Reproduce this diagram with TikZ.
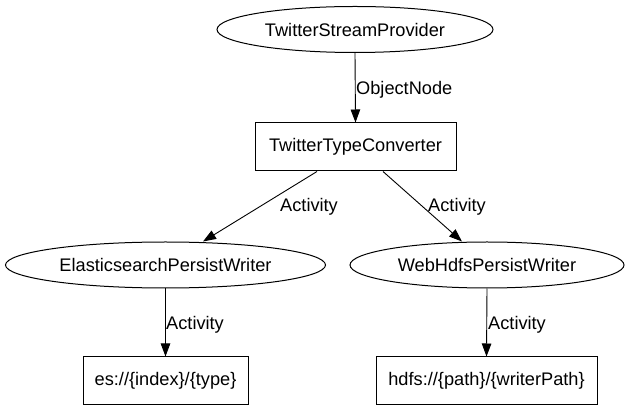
\documentclass[tikz,border=0pt]{standalone}
\usepackage{fontspec}
\setmainfont{Liberation Sans}
\usetikzlibrary{arrows.meta,shapes.geometric}
\tikzset{
  every node/.style={font=\fontsize{18.2}{21}\selectfont, inner sep=0pt},
  ell/.style={draw, ellipse, line width=1pt},
  rbox/.style={draw, rectangle, line width=1pt},
  edge/.style={draw, line width=0.9pt, -{Triangle[length=13pt,width=9.5pt]}},
  lbl/.style={anchor=west}
}
\begin{document}
\begin{tikzpicture}[x=1pt,y=-1pt]
\useasboundingbox (0,0) rectangle (629,411);
\node[ell, minimum width=276pt, minimum height=46pt] (tsp) at (355,29.5) {TwitterStreamProvider};
\node[rbox, minimum width=201pt, minimum height=48pt] (conv) at (355.5,147) {TwitterTypeConverter};
\node[ell, minimum width=320pt, minimum height=46pt] (es) at (165.5,265) {ElasticsearchPersistWriter};
\node[ell, minimum width=274pt, minimum height=46pt] (web) at (487,265) {WebHdfsPersistWriter};
\node[rbox, minimum width=165pt, minimum height=47pt] (esb) at (165.5,380.5) {es://\{index\}/\{type\}};
\node[rbox, minimum width=221pt, minimum height=47pt] (hb) at (486.5,380.5) {hdfs://\{path\}/\{writerPath\}};
\path[edge] (tsp.south) -- (conv.north);
\path[edge] ([xshift=-38.5pt]conv.south) -- ([xshift=37.5pt]es.north);
\path[edge] ([xshift=27.5pt]conv.south) -- ([xshift=-25pt]web.north);
\path[edge] (es.south) -- (esb.north);
\path[edge] (web.south) -- (hb.north);
\node[lbl] (l1) at (356,89.5) {ObjectNode};
\node[lbl] (l2) at (280,206.5) {Activity};
\node[lbl] (l3) at (428,206.5) {Activity};
\node[lbl] (l4) at (166,324.5) {Activity};
\node[lbl] (l5) at (488,324.5) {Activity};
\end{tikzpicture}
\end{document}
